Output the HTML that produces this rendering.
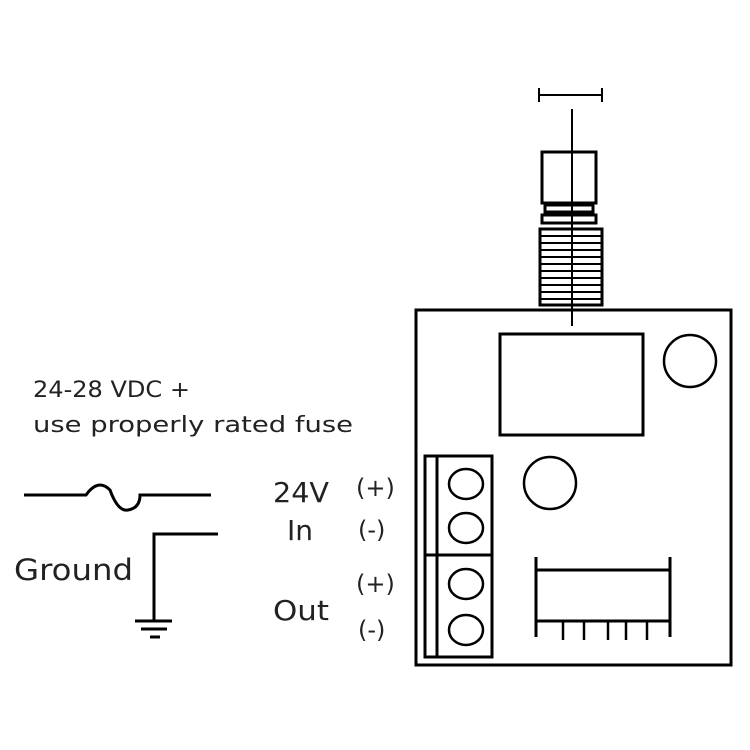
<!DOCTYPE html>
<html><head><style>body{margin:0;background:#fff}svg{display:block}</style></head>
<body>
<svg width="750" height="750" xmlns="http://www.w3.org/2000/svg">
<rect width="750" height="750" fill="#fff"/>
<g stroke="#000" stroke-width="3" fill="none">
<line x1="539" y1="95" x2="602" y2="95" stroke-width="2"/>
<line x1="539" y1="88" x2="539" y2="102" stroke-width="2"/>
<line x1="602" y1="88" x2="602" y2="102" stroke-width="2"/>
<line x1="572" y1="109" x2="572" y2="326" stroke-width="2"/>
<rect x="542" y="152" width="54" height="51"/>
<rect x="545" y="205" width="48" height="7"/>
<rect x="542" y="215" width="54" height="8"/>
<rect x="540" y="229" width="62" height="76"/>
<g stroke-width="2">
<line x1="540" y1="236" x2="602" y2="236"/><line x1="540" y1="243" x2="602" y2="243"/>
<line x1="540" y1="250" x2="602" y2="250"/><line x1="540" y1="257" x2="602" y2="257"/>
<line x1="540" y1="264" x2="602" y2="264"/><line x1="540" y1="271" x2="602" y2="271"/>
<line x1="540" y1="278" x2="602" y2="278"/><line x1="540" y1="285" x2="602" y2="285"/>
<line x1="540" y1="292" x2="602" y2="292"/><line x1="540" y1="299" x2="602" y2="299"/>
</g>
<rect x="416" y="310" width="315" height="355"/>
<rect x="500" y="334" width="143" height="101"/>
<circle cx="690" cy="361" r="26" stroke-width="2.5"/>
<circle cx="550" cy="483" r="26" stroke-width="2.5"/>
<rect x="425" y="456" width="67" height="201"/>
<line x1="437" y1="456" x2="437" y2="657"/>
<line x1="425" y1="555" x2="492" y2="555"/>
<g stroke-width="2.5">
<ellipse cx="466" cy="484" rx="17" ry="15"/>
<ellipse cx="466" cy="528" rx="17" ry="15"/>
<ellipse cx="466" cy="584" rx="17" ry="15"/>
<ellipse cx="466" cy="630" rx="17" ry="15"/>
</g>
<line x1="536" y1="570" x2="670" y2="570"/>
<line x1="536" y1="621" x2="670" y2="621"/>
<line x1="536" y1="557" x2="536" y2="637"/>
<line x1="670" y1="557" x2="670" y2="637"/>
<g stroke-width="2.5">
<line x1="563" y1="621" x2="563" y2="640"/><line x1="584" y1="621" x2="584" y2="640"/>
<line x1="608" y1="621" x2="608" y2="640"/><line x1="626" y1="621" x2="626" y2="640"/>
<line x1="647" y1="621" x2="647" y2="640"/>
</g>
<path d="M24 495 H86 Q98 478 110 490 Q118 512 128 510 Q140 508 140 495 H211"/>
<path d="M218 534 H154 V622"/>
<line x1="135" y1="621" x2="172" y2="621"/>
<line x1="141" y1="629" x2="167" y2="629"/>
<line x1="150" y1="637" x2="160" y2="637"/>
</g>
<g font-family="DejaVu Sans, sans-serif" fill="#222">
<text x="33" y="397" font-size="22" textLength="157" lengthAdjust="spacingAndGlyphs">24-28 VDC +</text>
<text x="33" y="432" font-size="22" textLength="320" lengthAdjust="spacingAndGlyphs">use properly rated fuse</text>
<text x="14" y="580" font-size="29" textLength="119" lengthAdjust="spacingAndGlyphs">Ground</text>
<text x="273" y="502" font-size="28" textLength="56" lengthAdjust="spacingAndGlyphs">24V</text>
<text x="287" y="540" font-size="28">In</text>
<text x="273" y="620" font-size="28" textLength="56" lengthAdjust="spacingAndGlyphs">Out</text>
<text x="356" y="496" font-size="24">(+)</text>
<text x="358" y="538" font-size="24">(-)</text>
<text x="356" y="592" font-size="24">(+)</text>
<text x="358" y="638" font-size="24">(-)</text>
</g>
</svg>
</body></html>
